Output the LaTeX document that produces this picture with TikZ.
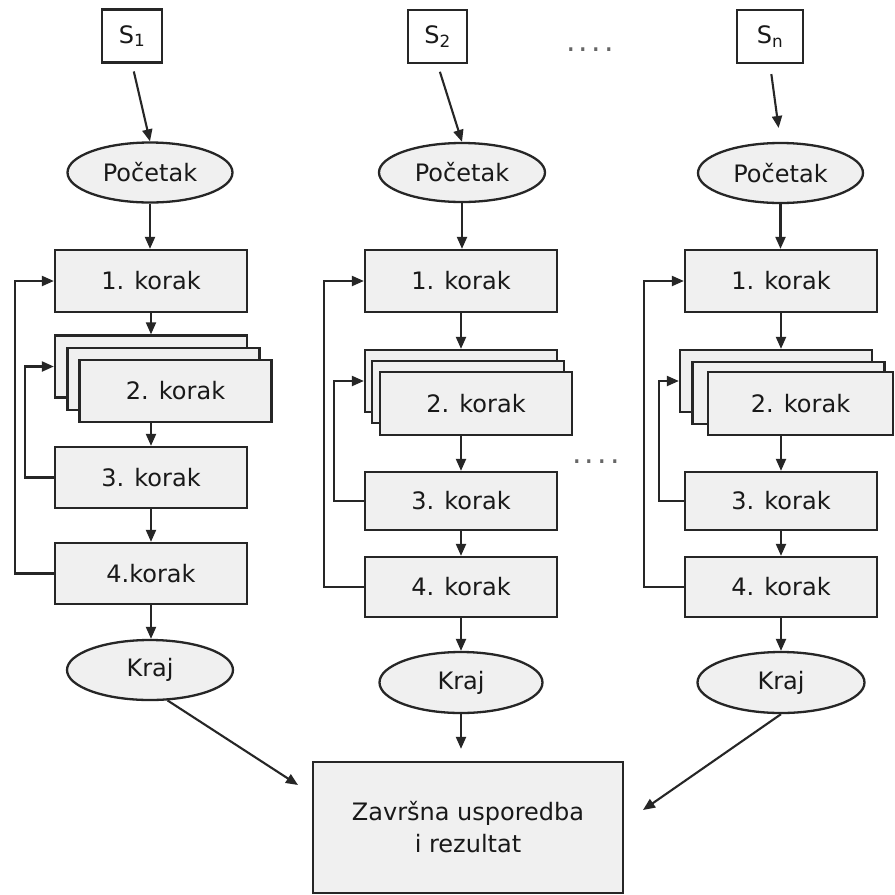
\documentclass[tikz,border=0pt]{standalone}
\usepackage{fontspec}
\setmainfont{DejaVu Sans}
\usetikzlibrary{arrows.meta,shapes.geometric}
\definecolor{boxfill}{HTML}{F0F0F0}
\definecolor{edge}{HTML}{262626}
\tikzset{
 every node/.style={font=\fontsize{24}{28}\selectfont, text=black!90},
 stepbox/.style={draw=edge, line width=2.3pt, fill=boxfill, rectangle, minimum width=192pt, minimum height=62pt, inner sep=0pt},
 termell/.style={draw=edge, line width=2.3pt, fill=boxfill, ellipse, minimum width=165pt, minimum height=60pt, inner sep=0pt},
 srcbox/.style={draw=edge, line width=2.3pt, fill=white, rectangle, minimum width=60pt, minimum height=53pt, inner sep=0pt},
 arr/.style={draw=edge, line width=2.1pt, -{Triangle[length=12pt,width=10pt]}},
 dotstyle/.style={text=black!60, inner sep=0pt, font=\fontsize{30}{30}\selectfont}
}
\begin{document}
\begin{tikzpicture}[x=1pt,y=-1pt]
\useasboundingbox[fill=white] (0,0) rectangle (895,895);

% ---------------- column 1 ----------------
\node[srcbox] (s1) at (132,36) {S\textsubscript{1}};
\node[termell] (p1) at (150,172.5) {Početak};
\node[stepbox] (a1) at (151,281) {1. korak};
\node[stepbox] (bb1) at (151,366.5) {};
\node[stepbox] (bm1) at (163.5,379) {};
\node[stepbox] (b1) at (175.5,391) {2. korak};
\node[stepbox, minimum height=61pt] (c1) at (151,477.5) {3. korak};
\node[stepbox, minimum height=61pt] (d1) at (151,573.5) {4.korak};
\node[termell, minimum width=166pt] (k1) at (150,670) {Kraj};

% ---------------- column 2 ----------------
\node[srcbox, minimum width=59pt] (s2) at (437.5,36.5) {S\textsubscript{2}};
\node[termell, minimum width=166pt, minimum height=59pt] (p2) at (462,172.5) {Početak};
\node[stepbox] (a2) at (461,281) {1. korak};
\node[stepbox] (bb2) at (461,381) {};
\node[stepbox] (bm2) at (468,392) {};
\node[stepbox, minimum height=63pt] (b2) at (476,403.5) {2. korak};
\node[stepbox, minimum height=58pt] (c2) at (461,501) {3. korak};
\node[stepbox, minimum height=60pt] (d2) at (461,587) {4. korak};
\node[termell, minimum width=163pt, minimum height=61pt] (k2) at (461,682.5) {Kraj};

% ---------------- column 3 ----------------
\node[srcbox, minimum width=66pt] (s3) at (770,36.5) {S\textsubscript{n}};
\node[termell] (p3) at (780.5,173) {Početak};
\node[stepbox] (a3) at (781,281) {1. korak};
\node[stepbox] (bb3) at (776,381) {};
\node[stepbox] (bm3) at (788.5,393) {};
\node[stepbox, minimum width=185pt, minimum height=63pt] (b3) at (800.5,403.5) {2. korak};
\node[stepbox, minimum height=58pt] (c3) at (781,501) {3. korak};
\node[stepbox, minimum height=60pt] (d3) at (781,587) {4. korak};
\node[termell, minimum width=167pt, minimum height=61pt] (k3) at (781,682.5) {Kraj};

% ---------------- final box ----------------
\node[stepbox, minimum width=310pt, minimum height=131pt, align=center] (f) at (468,827.5)
  {Završna usporedba\\[4pt]i rezultat};

% dots
\node[dotstyle] (dt) at (590,50) {.\kern3pt.\kern3pt.\kern3pt.};
\node[dotstyle] (dm) at (596,462) {.\kern3pt.\kern3pt.\kern3pt.};

% ---------------- connectors ----------------
\foreach \i in {1,2,3}{
  \draw[arr] (p\i.south) -- (a\i.north -| p\i.south);
  \draw[arr] (a\i.south) -- (bb\i.north -| a\i.south);
  \draw[arr] (b\i.south -| c\i.north) -- (c\i.north);
  \draw[arr] (c\i.south) -- (d\i.north);
  \draw[arr] (d\i.south) -- (k\i.north -| d\i.south);
}
\draw[arr, shorten <=8pt] (s1.south) -- (p1.north);
\draw[arr, shorten <=8pt] (s2.south) -- (p2.north);
\draw[arr, shorten <=10pt, shorten >=14pt] (s3.south) -- (p3.north);

% feedback loops column 1
\draw[arr] (c1.west) -- ++(-29,0) |- (bb1.west);
\draw[arr] (d1.west) -- ++(-39,0) |- (a1.west);
% column 2
\draw[arr] (c2.west) -- ++(-30,0) |- (bb2.west);
\draw[arr] (d2.west) -- ++(-40,0) |- (a2.west);
% column 3
\draw[arr] (c3.west) -- ++(-25,0) |- (bb3.west);
\draw[arr] (d3.west) -- ++(-40,0) |- (a3.west);

% to final box
\coordinate (e1) at (298,785);
\coordinate (e3) at (643,810);
\draw[arr] (k1.-60) -- (e1);
\draw[arr, shorten >=12pt] (k2.south) -- (f.north -| k2.south);
\draw[arr] (k3.south) -- (e3);
\end{tikzpicture}
\end{document}
